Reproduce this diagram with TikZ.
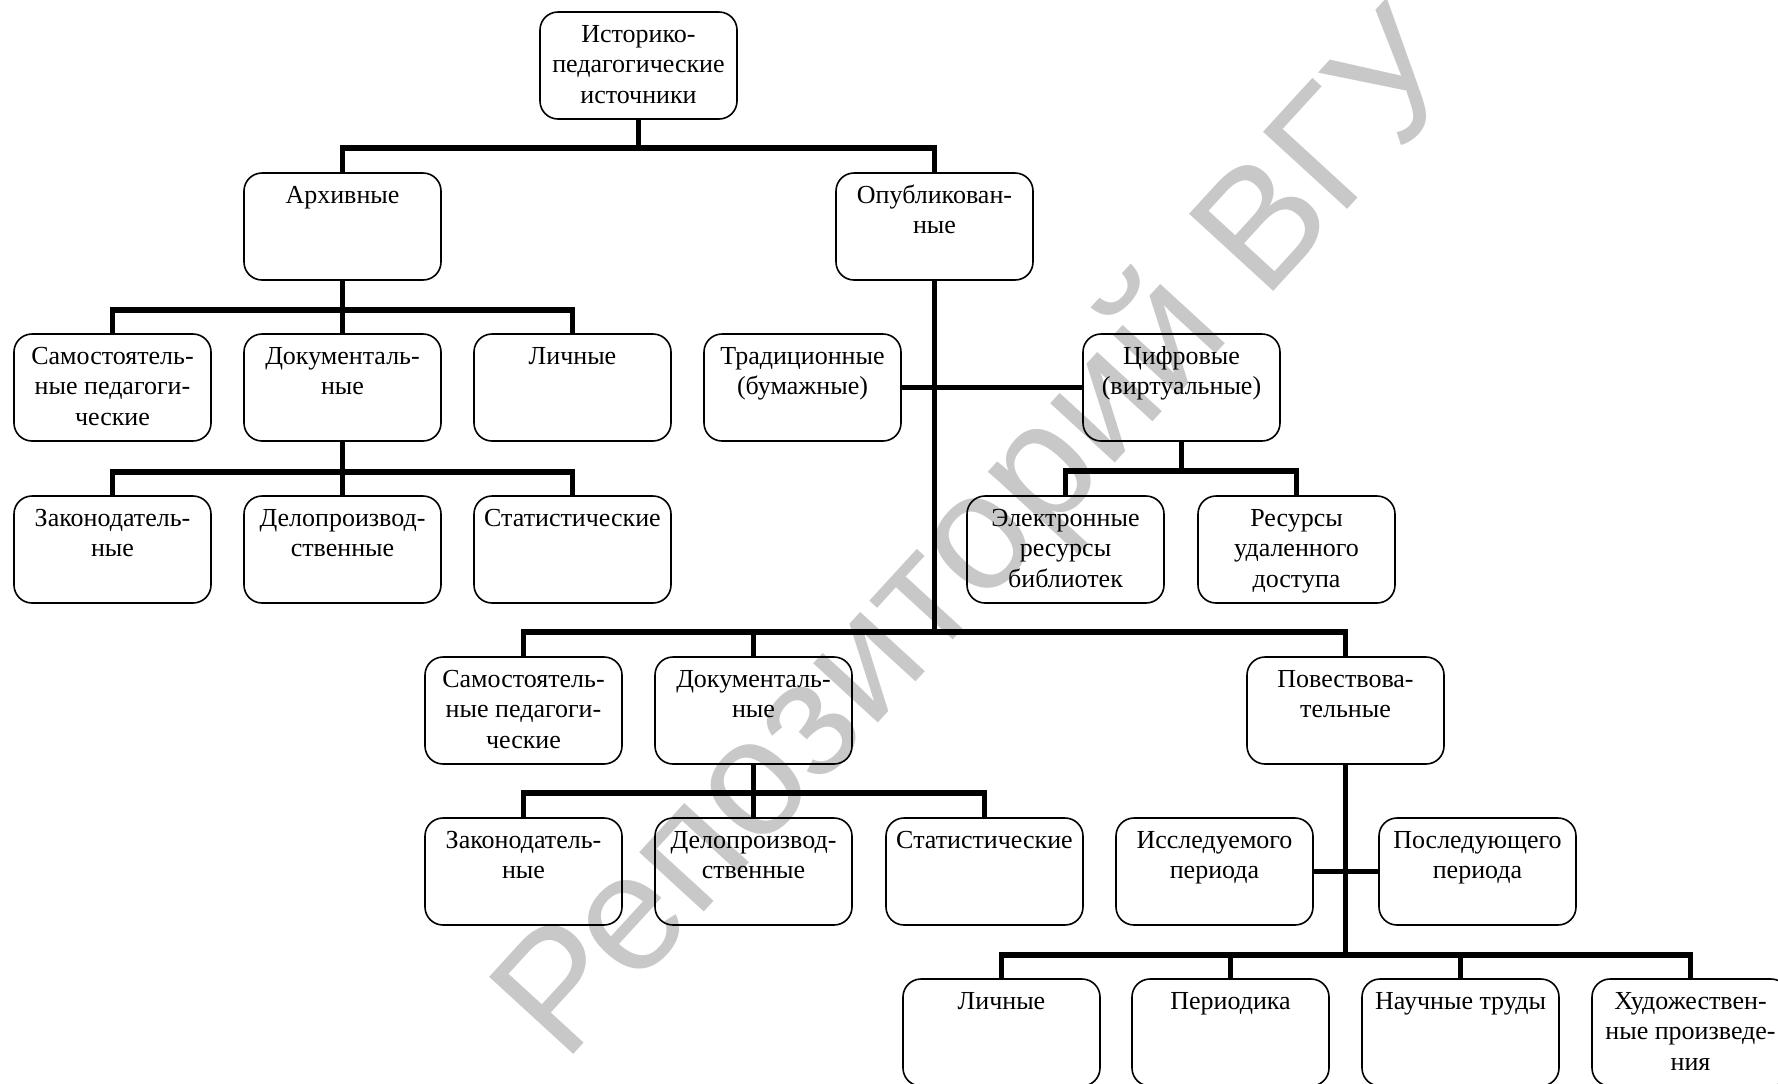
\documentclass[tikz,border=0pt]{standalone}
\usepackage{fontspec}
\setmainfont{Liberation Serif}
\newfontfamily\wmfont{Liberation Sans}
\definecolor{wmgray}{RGB}{200,200,200}
\newcommand{\boxtext}[1]{\parbox[c][53.5pt][t]{98.5pt}{\centering\fontsize{13}{15.25}\selectfont\rule{0pt}{15pt}#1}}

\begin{document}
\begin{tikzpicture}[x=0.5pt, y=-0.5pt,
    box/.style={draw, rounded corners=9pt, line width=0.8pt, inner sep=0pt, outer sep=0pt},
    conn/.style={line width=2.6pt}]

    \clip (0,0) rectangle (1778,1083);

    % watermark
    \node[text=wmgray, font=\wmfont\fontsize{83}{83}\selectfont, rotate=47.5] (wm) at (985,540) {Репозиторий ВГУ};

    % top
    \node[box] (sources) at (638.5,65.5) {\boxtext{Историко-\\педагогические\\источники}};
    \node[box] (archive) at (342.5,226.5) {\boxtext{Архивные}};
    \node[box] (published) at (934.5,226.5) {\boxtext{Опубликован-\\ные}};

    % archive branch
    \node[box] (arSelf) at (112.5,387.5) {\boxtext{Самостоятель-\\ные педагоги-\\ческие}};
    \node[box] (arDoc) at (342.5,387.5) {\boxtext{Документаль-\\ные}};
    \node[box] (arPers) at (572.5,387.5) {\boxtext{Личные}};
    \node[box] (arLaw) at (112.5,549.5) {\boxtext{Законодатель-\\ные}};
    \node[box] (arOffice) at (342.5,549.5) {\boxtext{Делопроизвод-\\ственные}};
    \node[box] (arStat) at (572.5,549.5) {\boxtext{Статистические}};

    % published branch
    \node[box] (trad) at (802.5,387.5) {\boxtext{Традиционные\\(бумажные)}};
    \node[box] (digital) at (1181.5,387.5) {\boxtext{Цифровые\\(виртуальные)}};
    \node[box] (eLib) at (1065.5,549.5) {\boxtext{Электронные\\ресурсы\\библиотек}};
    \node[box] (remote) at (1296.5,549.5) {\boxtext{Ресурсы\\удаленного\\доступа}};

    \node[box] (puSelf) at (523.5,710.5) {\boxtext{Самостоятель-\\ные педагоги-\\ческие}};
    \node[box] (puDoc) at (753.5,710.5) {\boxtext{Документаль-\\ные}};
    \node[box] (narr) at (1345.5,710.5) {\boxtext{Повествова-\\тельные}};
    \node[box] (puLaw) at (523.5,871.5) {\boxtext{Законодатель-\\ные}};
    \node[box] (puOffice) at (753.5,871.5) {\boxtext{Делопроизвод-\\ственные}};
    \node[box] (puStat) at (984.5,871.5) {\boxtext{Статистические}};
    \node[box] (studied) at (1214.5,871.5) {\boxtext{Исследуемого\\периода}};
    \node[box] (later) at (1477.5,871.5) {\boxtext{Последующего\\периода}};

    \node[box] (personal) at (1001.5,1032.5) {\boxtext{Личные}};
    \node[box] (periodic) at (1230.5,1032.5) {\boxtext{Периодика}};
    \node[box] (science) at (1460.5,1032.5) {\boxtext{Научные труды}};
    \node[box] (fiction) at (1690.5,1032.5) {\boxtext{Художествен-\\ные произведе-\\ния}};

    % connectors
    \draw[conn] (sources.south) -- ++(0,29);
    \draw[conn] (archive.north) -- ++(0,-25) -| (published.north);

    \draw[conn] (archive.south) -- (arDoc.north);
    \draw[conn] (arSelf.north) -- ++(0,-24) -| (arPers.north);
    \draw[conn] (arDoc.south) -- (arOffice.north);
    \draw[conn] (arLaw.north) -- ++(0,-24) -| (arStat.north);

    \draw[conn] (published.south) -- ++(0,352);
    \draw[conn] (trad.east) -- (digital.west);
    \draw[conn] (digital.south) -- ++(0,30);
    \draw[conn] (eLib.north) -- ++(0,-25) -| (remote.north);

    \draw[conn] (puSelf.north) -- ++(0,-25) -| (narr.north);
    \draw[conn] (puDoc.north) -- ++(0,-25);
    \draw[conn] (puDoc.south) -- (puOffice.north);
    \draw[conn] (puLaw.north) -- ++(0,-25) -| (puStat.north);

    \draw[conn] (narr.south) -- ++(0,191);
    \draw[conn] (studied.east) -- (later.west);
    \draw[conn] (personal.north) -- ++(0,-24) -| (fiction.north);
    \foreach \n in {periodic,science} \draw[conn] (\n.north) -- ++(0,-24);

\end{tikzpicture}
\end{document}
